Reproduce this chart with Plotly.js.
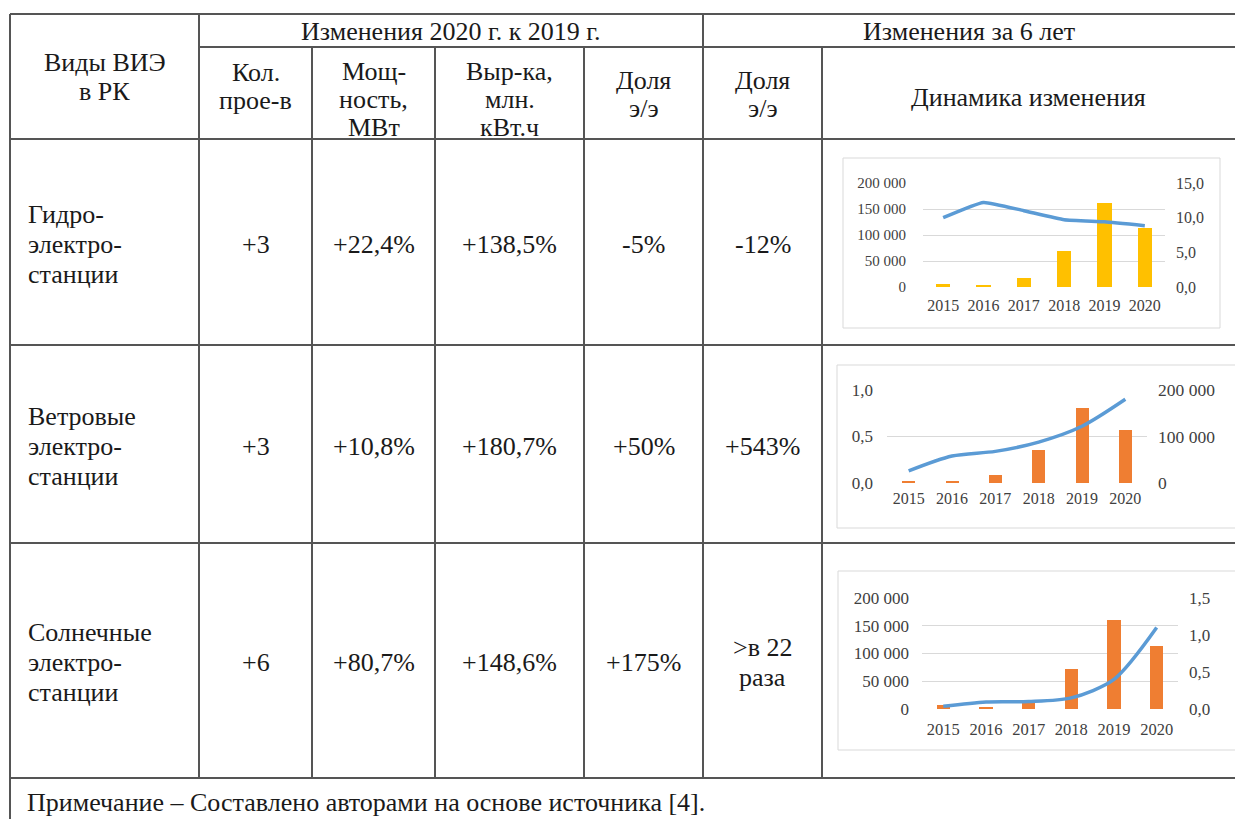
<!DOCTYPE html>
<html>
<head>
<meta charset="utf-8">
<script src="https://cdn.plot.ly/plotly-3.0.1.min.js"></script>
<style>
html,body{margin:0;padding:0;background:#fff;}
#chart{width:1235px;height:819px;}
</style>
</head>
<body>
<div id="chart"></div>
<script>
// ---------- DATA ----------
const years = ['2015','2016','2017','2018','2019','2020'];
const hydroOutput = [6500, 3200, 17400, 69000, 161000, 113000];
const hydroShare  = [10.0, 12.2, 11.0, 9.7, 9.4, 8.85];
const windOutput  = [5000, 5000, 16400, 70700, 162000, 113600];
const windShare   = [0.13, 0.29, 0.34, 0.44, 0.61, 0.90];
const solarOutput = [6600, 3600, 15500, 71600, 161000, 113400];
const solarShare  = [0.036, 0.094, 0.10, 0.15, 0.40, 1.10];

const headerMain   = ['Виды ВИЭ', 'в РК'];
const headerGroup1 = 'Изменения 2020 г. к 2019 г.';
const headerGroup2 = 'Изменения за 6 лет';
const headerCols   = [['Кол.','прое-в'], ['Мощ-','ность,','МВт'], ['Выр-ка,','млн.','кВт.ч'], ['Доля','э/э'], ['Доля','э/э']];
const headerChart  = 'Динамика изменения';
const rowNames       = [['Гидро-','электро-','станции'], ['Ветровые','электро-','станции'], ['Солнечные','электро-','станции']];
const projectCount   = ['+3', '+3', '+6'];
const capacityChange = ['+22,4%', '+10,8%', '+80,7%'];
const outputChange   = ['+138,5%', '+180,7%', '+148,6%'];
const shareChange    = ['-5%', '+50%', '+175%'];
const share6y        = [['-12%'], ['+543%'], ['>в 22','раза']];
const footnote = 'Примечание – Составлено авторами на основе источника [4].';

// ---------- LAYOUT GEOMETRY ----------
const W = 1235, H = 819;
const colX = [10, 199, 312, 435, 584, 703, 822, 1235];
const rowY = {top:14, sub:47, head:139, r1:345, r2:543, r3:778};
const rowBands = [[rowY.head,rowY.r1],[rowY.r1,rowY.r2],[rowY.r2,rowY.r3]];
const FONT = 'Liberation Serif';
const FS = 26;
const lineCol = '#555555';

const shapes = [];
function hline(y,x0,x1){shapes.push({type:'line',xref:'x',yref:'y',x0:x0,x1:x1,y0:y,y1:y,line:{color:lineCol,width:2}});}
function vline(x,y0,y1){shapes.push({type:'line',xref:'x',yref:'y',x0:x,x1:x,y0:y0,y1:y1,line:{color:lineCol,width:2}});}
hline(rowY.top, colX[0], W+5);
hline(rowY.sub, colX[1], W+5);
hline(rowY.head, colX[0], W+5);
hline(rowY.r1, colX[0], W+5);
hline(rowY.r2, colX[0], W+5);
hline(rowY.r3, colX[0], W+5);
vline(colX[0], rowY.top, H+5);
vline(colX[1], rowY.top, rowY.r3);
vline(colX[5], rowY.top, rowY.r3);
[colX[2],colX[3],colX[4],colX[6]].forEach(x=>vline(x,rowY.sub,rowY.r3));
// chart frames
const boxCol = '#D9D9D9';
[[843,158,1220,328],[837,365,1240,528],[838,571,1240,750]].forEach(b=>{
  shapes.push({type:'rect',xref:'x',yref:'y',x0:b[0],y0:b[1],x1:b[2],y1:b[3],line:{color:boxCol,width:1},fillcolor:'rgba(0,0,0,0)'});
});

const ann = [];
function txt(x,y,t,opts){
  ann.push(Object.assign({xref:'x',yref:'y',x:x,y:y,text:t,showarrow:false,xanchor:'center',yanchor:'middle',
    font:{family:FONT,size:FS,color:'#1a1a1a'}},opts||{}));
}
function block(x,yc,lines,lh,opts){
  const n = lines.length;
  lines.forEach((l,i)=>txt(x, yc + (i-(n-1)/2)*lh, l, opts));
}
// header
block((colX[0]+colX[1])/2, 77, headerMain, 29);
txt((colX[1]+colX[5])/2, 31, headerGroup1);
txt((colX[5]+W)/2, 31, headerGroup2);
headerCols.forEach((lines,i)=>{
  const yc = lines.length===2 ? (i<1 ? 86 : 94) : 99.5;
  block((colX[i+1]+colX[i+2])/2, yc, lines, 28);
});
txt((colX[6]+W)/2, 97, headerChart);
// body rows
rowBands.forEach((b,i)=>{
  const yc = (b[0]+b[1])/2 + 2;
  block(26, yc, rowNames[i], 30, {xanchor:'left'});
  txt((colX[1]+colX[2])/2, yc, projectCount[i]);
  txt((colX[2]+colX[3])/2, yc, capacityChange[i]);
  txt((colX[3]+colX[4])/2, yc, outputChange[i]);
  txt((colX[4]+colX[5])/2, yc, shareChange[i]);
  block((colX[5]+colX[6])/2, yc, share6y[i], 30);
});
txt(25, 802, footnote, {xanchor:'left'});

// ---------- MINI CHARTS ----------
const fx = v => v/W;
const fy = v => 1 - v/H;
const tickCol = '#404040';
const gridCol = '#D9D9D9';
const yellow = '#FFC000';
const orange = '#EF7E32';
const blue = '#5B9BD5';

function xax(x0,x1,anchor,fs,standoff){
  return {domain:[fx(x0),fx(x1)],anchor:anchor,type:'category',range:[-0.5,5.5],showgrid:false,zeroline:false,
    showline:false,ticks:'',tickfont:{family:FONT,size:fs,color:tickCol},ticklabelstandoff:standoff,fixedrange:true};
}
function yax(y0,y1,anchor,range,dtick,fmt,side,grid,fs,standoff){
  return {domain:[fy(y1),fy(y0)],anchor:anchor,range:range,dtick:dtick,tick0:0,tickformat:fmt,side:side,showgrid:grid,gridcolor:gridCol,gridwidth:1,
    zeroline:false,showline:false,ticks:'',tickfont:{family:FONT,size:fs,color:tickCol},ticklabelstandoff:standoff,fixedrange:true};
}

const layout = {
  width:W, height:H, margin:{l:0,r:0,t:0,b:0}, paper_bgcolor:'#ffffff', plot_bgcolor:'rgba(0,0,0,0)',
  showlegend:false, separators:', ', bargap:0, font:{family:FONT},
  xaxis:{domain:[0,1],range:[0,W],visible:false,fixedrange:true},
  yaxis:{domain:[0,1],range:[H,0],visible:false,fixedrange:true},
  // chart 1
  xaxis2: xax(923,1165,'y2',16,7),
  yaxis2: yax(183,287,'x2',[0,200000],50000,',d','left',true,15,16),
  yaxis3: Object.assign(yax(183,287,'x2',[0,15],5,'.1f','right',false,16,10),{overlaying:'y2'}),
  // chart 2
  xaxis3: xax(887,1147,'y4',16,4),
  yaxis4: yax(390,483,'x3',[0,200000],100000,',d','right',true,17.5,10),
  yaxis5: Object.assign(yax(390,483,'x3',[0,1],0.5,'.1f','left',false,17,13),{overlaying:'y4'}),
  // chart 3
  xaxis4: xax(922,1178,'y6',16.5,8),
  yaxis6: yax(598,709,'x4',[0,200000],50000,',d','left',true,17,12),
  yaxis7: Object.assign(yax(598,709,'x4',[0,1.5],0.5,'.1f','right',false,17,10),{overlaying:'y6'}),
  shapes:shapes, annotations:ann
};

const data = [
  {type:'bar',x:years,y:hydroOutput,xaxis:'x2',yaxis:'y2',width:0.35,marker:{color:yellow},hoverinfo:'skip'},
  {type:'scatter',mode:'lines',x:years,y:hydroShare,xaxis:'x2',yaxis:'y3',line:{color:blue,width:3.5,shape:'spline',smoothing:0.4},hoverinfo:'skip'},
  {type:'bar',x:years,y:windOutput,xaxis:'x3',yaxis:'y4',width:0.3,marker:{color:orange},hoverinfo:'skip'},
  {type:'scatter',mode:'lines',x:years,y:windShare,xaxis:'x3',yaxis:'y5',line:{color:blue,width:3.5,shape:'spline',smoothing:0.8},hoverinfo:'skip'},
  {type:'bar',x:years,y:solarOutput,xaxis:'x4',yaxis:'y6',width:0.31,marker:{color:orange},hoverinfo:'skip'},
  {type:'scatter',mode:'lines',x:years,y:solarShare,xaxis:'x4',yaxis:'y7',line:{color:blue,width:3.5,shape:'spline',smoothing:0.8},hoverinfo:'skip'}
];

Plotly.newPlot('chart', data, layout, {staticPlot:true, displayModeBar:false});
</script>
</body>
</html>
